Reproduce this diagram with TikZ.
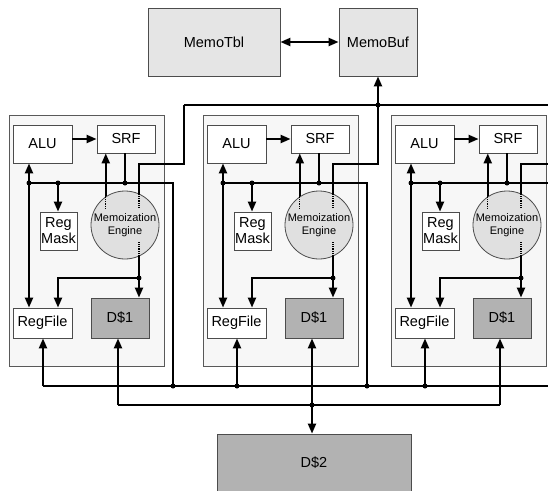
\documentclass[tikz,border=0pt]{standalone}
\usepackage{fontspec}
\setmainfont{Liberation Sans}
\usetikzlibrary{arrows.meta}

\begin{document}
\begin{tikzpicture}[x=1pt,y=-1pt,
    wire/.style={line width=2.1pt, >={Triangle[length=10pt,width=8pt]}},
    inside/.style={line width=1.3pt, densely dotted},
    box/.style={draw=black!70, line width=0.8pt, fill=white, inner sep=0pt,
        align=center, font=\fontsize{14.5}{16}\selectfont},
    cache/.style={box, fill=black!30},
    memo/.style={box, fill=black!10},
    tile/.style={draw=black!65, line width=0.8pt, fill=black!3},
    engine/.style={circle, draw=black!70, line width=0.8pt, fill=black!12,
        minimum size=68pt, inner sep=0pt, align=center,
        font=\fontsize{11}{12.5}\selectfont},
    dot/.style={circle, fill=black, inner sep=0pt, minimum size=5pt}]
    \useasboundingbox (0,0) rectangle (548,490);
    \clip (0,0) rectangle (548,490);
    \fill[white] (0,0) rectangle (548,490);

    % memo table and buffer
    \node[memo, minimum width=132pt, minimum height=68pt] (memotbl) at (214,42) {MemoTbl};
    \node[memo, minimum width=78pt, minimum height=68pt] (memobuf) at (378,42) {MemoBuf};
    \draw[wire,<->] (memotbl) -- (memobuf);

    % shared cache
    \node[cache, minimum width=194pt, minimum height=58pt] (dtwo) at (314,463) {D\$2};

    % the three tiles
    \foreach \i/\dx in {1/0, 2/194, 3/382} {
    \begin{scope}[xshift=\dx]
        \draw[tile] (9,115) rectangle (164,366);
        \node[box, minimum width=59pt, minimum height=38pt] (alu\i) at (42.5,144) {ALU};
        \node[box, minimum width=58pt, minimum height=28pt] (srf\i) at (126,139) {SRF};
        \node[box, minimum width=37pt, minimum height=38pt] (mask\i) at (58.5,231) {Reg\\Mask};
        \node[engine] (eng\i) at (125,225) {Memoization\\Engine};
        \node[box, minimum width=59pt, minimum height=30pt] (rf\i) at (42.5,323) {RegFile};
        \node[cache, minimum width=58pt, minimum height=40pt] (done\i) at (120,318) {D\$1};

        \coordinate (ja\i) at (29,183);
        \coordinate (jm\i) at (58,183);
        \coordinate (js\i) at (125,183);
        \coordinate (jc\i) at (173,183);
        \coordinate (jd\i) at (173,386);
        \coordinate (je\i) at (139,278);
        \coordinate (ju\i) at (139,164);
        \coordinate (jt\i) at (184,105);
        \coordinate (jr\i) at (43,386);
        \coordinate (jl\i) at (118,405);

        \draw[wire,->] (alu\i.east |- srf\i) -- (srf\i.west);
        \draw[wire,<->] (alu\i.south -| ja\i) -- (rf\i.north -| ja\i);
        \draw[wire] (ja\i) -- (jc\i) -- (jd\i);
        \draw[wire,->] (jm\i) -- (mask\i.north -| jm\i);
        \draw[wire] (srf\i.south -| js\i) -- (js\i);
        \draw[wire,->] (eng\i.124) -- (srf\i.south -| eng\i.124);
        \draw[wire] (eng\i.66) -- (eng\i.66 |- ju\i) -| (jt\i);
        \draw[wire,->] (eng\i.-66) -- (done\i.north -| eng\i.-66);
        \draw[wire,->] (eng\i.-66 |- je\i) -| (rf\i.north -| jm\i);
        \draw[inside] (eng\i.124) -- ++(0,13);
        \draw[inside] (eng\i.66) -- ++(0,14);
        \draw[inside] (eng\i.-66) -- ++(0,-14);
        \draw[wire,->] (jr\i) -- (rf\i.south -| jr\i);
        \draw[wire,->] (jl\i) -- (done\i.south -| jl\i);

        \node[dot] (dja\i) at (ja\i) {};
        \node[dot] (djm\i) at (jm\i) {};
        \node[dot] (djs\i) at (js\i) {};
        \node[dot] (dje\i) at (eng\i.-66 |- je\i) {};
    \end{scope}
    }

    % buses between the tiles
    \draw[wire] (jt1) -- (560,105);
    \draw[wire,->] (jt2) -- (memobuf.south -| jt2);
    \draw[wire] (jr1) -- (560,386);
    \draw[wire] (jl1) -- (jl3);
    \draw[wire,->] (jl2) -- (dtwo.north -| jl2);
    \foreach \p in {jt2, jd1, jd2, jr2, jr3, jl2}
        \node[dot] (d\p) at (\p) {};
\end{tikzpicture}
\end{document}
